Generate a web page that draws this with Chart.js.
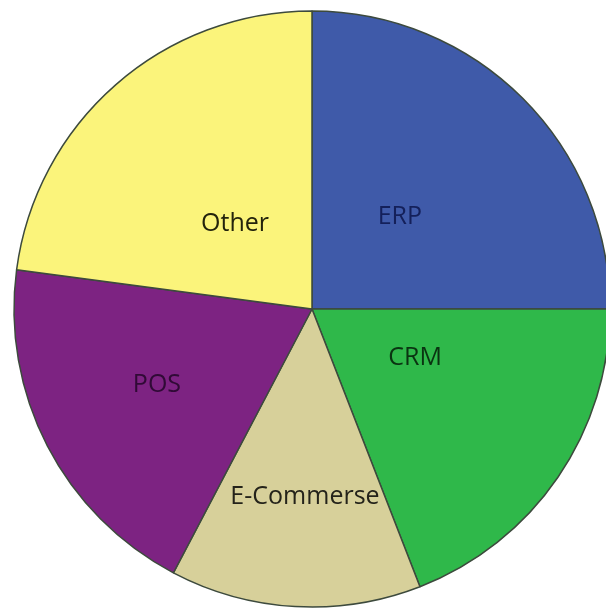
<!DOCTYPE html>
<html>
<head>
<meta charset="utf-8">
<script src="https://cdn.jsdelivr.net/npm/chart.js@4.4.1/dist/chart.umd.min.js"></script>
<style>
    html, body { margin: 0; padding: 0; background: #ffffff; }
    #wrap { width: 606px; height: 612px; position: relative; }
</style>
</head>
<body>
<div id="wrap"><canvas id="pieChart"></canvas></div>
<script>
// slice names and shares (percent), clockwise from 12 o'clock
var categories = ["ERP", "CRM", "E-Commerse", "POS", "Other"];
var shares = [25, 19.1, 13.6, 19.4, 22.9];

var sliceColors = ["#3f5aa9", "#2fb84a", "#d7d09a", "#7d2382", "#fbf47b"];
var textColors = ["#14205a", "#0a3311", "#24231a", "#300a36", "#23230c"];

// where each label sits inside its slice: fraction of radius, angle nudge (deg)
var labelSpots = [
    { r: 0.427, turn: -1.3 },
    { r: 0.383, turn: -9 },
    { r: 0.631, turn: -1.1 },
    { r: 0.579, turn: 1.35 },
    { r: 0.385, turn: -0.9 }
];

var sliceLabels = {
    id: "sliceLabels",
    afterDatasetsDraw: function (chart) {
        var ctx = chart.ctx;
        var arcs = chart.getDatasetMeta(0).data;
        ctx.save();
        ctx.font = "25px 'Open Sans'";
        ctx.textAlign = "center";
        ctx.textBaseline = "middle";
        for (var i = 0; i < arcs.length; i++) {
            var a = arcs[i];
            var mid = (a.startAngle + a.endAngle) / 2 + labelSpots[i].turn * Math.PI / 180;
            var rr = a.outerRadius * labelSpots[i].r;
            ctx.fillStyle = textColors[i];
            ctx.fillText(categories[i], a.x + Math.cos(mid) * rr, a.y + Math.sin(mid) * rr);
        }
        ctx.restore();
    }
};

var pieCanvas = document.getElementById("pieChart").getContext("2d");
new Chart(pieCanvas, {
    type: "pie",
    data: {
        labels: categories,
        datasets: [{
            data: shares,
            backgroundColor: sliceColors,
            borderColor: "#3d4a3d",
            borderWidth: 1.5
        }]
    },
    options: {
        responsive: true,
        maintainAspectRatio: false,
        animation: false,
        radius: 298,
        layout: { padding: { left: 18, right: 0, top: 6, bottom: 0 } },
        plugins: {
            legend: { display: false },
            tooltip: { enabled: false }
        }
    },
    plugins: [sliceLabels]
});
</script>
</body>
</html>
